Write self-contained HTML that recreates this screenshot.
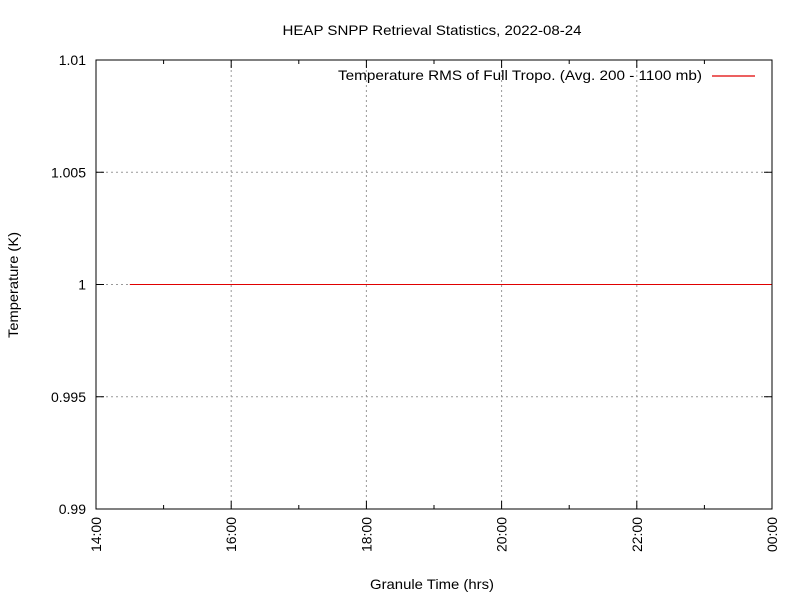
<!DOCTYPE html>
<html><head><meta charset="utf-8"><style>
body{margin:0;background:#fff}
svg{display:block;font-family:"Liberation Sans","DejaVu Sans",sans-serif}
</style></head><body>
<svg id="chart" width="800" height="600">
<text x="432" y="35" font-size="14" text-anchor="middle" textLength="299" lengthAdjust="spacingAndGlyphs">HEAP SNPP Retrieval Statistics, 2022-08-24</text>
<text x="432" y="589" font-size="14" text-anchor="middle" textLength="124" lengthAdjust="spacingAndGlyphs">Granule Time (hrs)</text>
<text transform="translate(18,285) rotate(-90)" font-size="14" text-anchor="middle" textLength="106" lengthAdjust="spacingAndGlyphs">Temperature (K)</text>
<g id="grid"></g>
<g id="axes"></g>
<g id="series"></g>
<rect x="96" y="60" width="676" height="449" fill="none" stroke="#000" stroke-width="1"/>
<g>
<text x="702" y="80" font-size="14" text-anchor="end" textLength="364" lengthAdjust="spacingAndGlyphs">Temperature RMS of Full Tropo. (Avg. 200 - 1100 mb)</text>
<line x1="712" y1="76" x2="755" y2="76" stroke="#e00000" stroke-width="1.2"/>
</g>
</svg>
<script>
const xTickValues=[14,16,18,20,22,24];
const xTickLabels=["14:00","16:00","18:00","20:00","22:00","00:00"];
const xMinorTicks=[15,17,19,21,23];
const yTickValues=[0.99,0.995,1,1.005,1.01];
const yTickLabels=["0.99","0.995","1","1.005","1.01"];
const times=[14.5,24];
const values=[1,1];

const L=96,R=772,T=60,B=509;
const xs=t=>L+(t-14)/10*(R-L);
const ys=v=>B-(v-0.99)/0.02*(B-T);
const NS="http://www.w3.org/2000/svg";
const mk=(p,tag,a)=>{const e=document.createElementNS(NS,tag);for(const k in a)e.setAttribute(k,a[k]);p.appendChild(e);return e;};
const grid=document.getElementById('grid'),axes=document.getElementById('axes'),series=document.getElementById('series');

xTickValues.forEach((t,i)=>{
  const x=xs(t);
  if(i>0&&i<xTickValues.length-1){
    const g=mk(grid,'line',{x1:x,y1:T,x2:x,y2:B,stroke:'#999','stroke-dasharray':'2,3'});
    
    
  }
  const a=mk(axes,'line',{x1:x,y1:B,x2:x,y2:B-8,stroke:'#000'});
  
  
  const a2=mk(axes,'line',{x1:x,y1:T,x2:x,y2:T+8,stroke:'#000'});
  
  
  const tx=mk(axes,'text',{transform:`translate(${x+5},517) rotate(-90)`,'font-size':14,'text-anchor':'end'});
  tx.textContent=xTickLabels[i];
  
  
});
xMinorTicks.forEach(t=>{
  const x=xs(t);
  const m=mk(axes,'line',{x1:x,y1:B,x2:x,y2:B-4,stroke:'#000'});
  
  
  const m2=mk(axes,'line',{x1:x,y1:T,x2:x,y2:T+4,stroke:'#000'});
  
  
});
yTickValues.forEach((v,i)=>{
  const y=ys(v);
  if(i>0&&i<yTickValues.length-1){
    const g=mk(grid,'line',{x1:L,y1:y,x2:R,y2:y,stroke:'#999','stroke-dasharray':'2,3'});
    
    
  }
  const a=mk(axes,'line',{x1:L,y1:y,x2:L+8,y2:y,stroke:'#000'});
  
  
  const a2=mk(axes,'line',{x1:R,y1:y,x2:R-8,y2:y,stroke:'#000'});
  
  
  const tx=mk(axes,'text',{x:86,y:y+5,'font-size':14,'text-anchor':'end'});
  tx.textContent=yTickLabels[i];
  
  
});
const pts=times.map((t,i)=>xs(t)+','+ys(values[i])).join(' ');
const pl=mk(series,'polyline',{points:pts,fill:'none',stroke:'#e00000','stroke-width':1});


</script>
</body></html>
